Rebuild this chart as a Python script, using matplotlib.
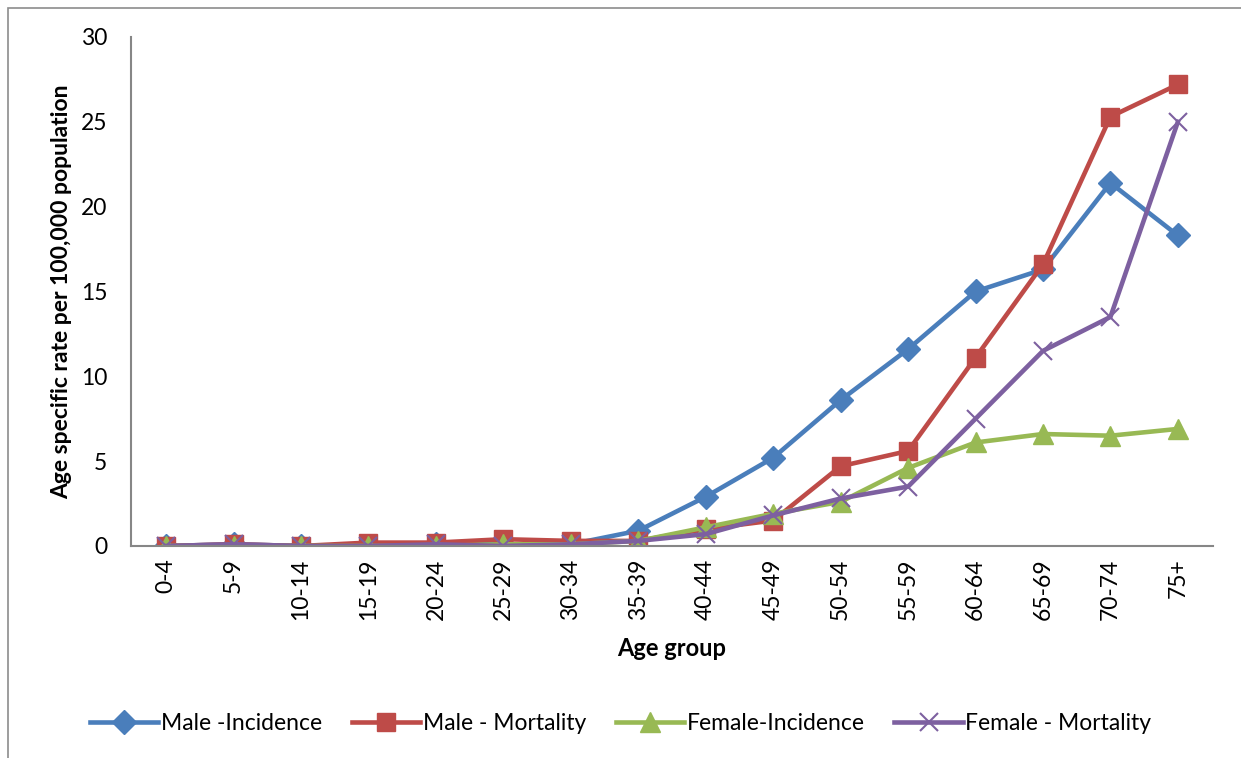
import matplotlib.pyplot as plt
from matplotlib.patches import Rectangle

plt.rcParams['font.family'] = ['Lato', 'DejaVu Sans']

age_groups = ['0-4', '5-9', '10-14', '15-19', '20-24', '25-29', '30-34', '35-39',
              '40-44', '45-49', '50-54', '55-59', '60-64', '65-69', '70-74', '75+']

male_incidence = [0, 0.1, 0, 0, 0.1, 0.1, 0.1, 0.9, 2.9, 5.2, 8.6, 11.6, 15.0, 16.3, 21.4, 18.3]
male_mortality = [0, 0.1, 0, 0.2, 0.2, 0.4, 0.3, 0.3, 1.0, 1.5, 4.7, 5.6, 11.1, 16.6, 25.3, 27.2]
female_incidence = [0, 0, 0, 0, 0, 0.1, 0.1, 0.3, 1.1, 1.9, 2.6, 4.6, 6.1, 6.6, 6.5, 6.9]
female_mortality = [0, 0.1, 0, 0, 0.1, 0, 0.1, 0.3, 0.7, 1.8, 2.8, 3.5, 7.5, 11.5, 13.5, 25.0]

fig = plt.figure(figsize=(12.41, 7.58), dpi=100)
ax = fig.add_axes([0.1056, 0.2797, 0.8718, 0.6715])

# outer chart-area border (cropped on the right / bottom)
fig.patches.append(Rectangle((8 / 1241, -0.05), 1.1, 1 - 8 / 758 + 0.05,
                             transform=fig.transFigure, fill=False,
                             edgecolor='#8c8c8c', linewidth=1.2))

x = list(range(len(age_groups)))
ax.plot(x, male_incidence, color='#4a7ebb', lw=3.3, marker='D', ms=12, label='Male -Incidence')
ax.plot(x, male_mortality, color='#be4b48', lw=3.3, marker='s', ms=13, label='Male - Mortality')
ax.plot(x, female_incidence, color='#98b954', lw=3.3, marker='^', ms=14, label='Female-Incidence')
ax.plot(x, female_mortality, color='#7d60a0', lw=3.3, marker='x', ms=13, mew=1.5, label='Female - Mortality')

ax.set_xlim(-0.52, 15.52)
ax.set_ylim(0, 30)
ax.set_yticks([0, 5, 10, 15, 20, 25, 30])
ax.set_xticks(x)
ax.set_xticklabels(age_groups, rotation=90)
ax.tick_params(axis='both', labelsize=16.5, length=0)
ax.tick_params(axis='y', pad=17)
ax.tick_params(axis='x', pad=9)

for side in ['top', 'right']:
    ax.spines[side].set_visible(False)
for side in ['left', 'bottom']:
    ax.spines[side].set_color('#868686')
    ax.spines[side].set_linewidth(1.5)

ax.set_xlabel('Age group', fontsize=17, fontweight='bold', labelpad=12)
ax.set_ylabel('Age specific rate per 100,000 population', fontsize=16.5, fontweight='bold', labelpad=6)

fig.legend(loc='center', bbox_to_anchor=(0.5, 0.046), ncol=4, frameon=False,
           fontsize=16.5, handlelength=3, columnspacing=1.3, handletextpad=0.1)

plt.savefig('out.png', dpi=100)
